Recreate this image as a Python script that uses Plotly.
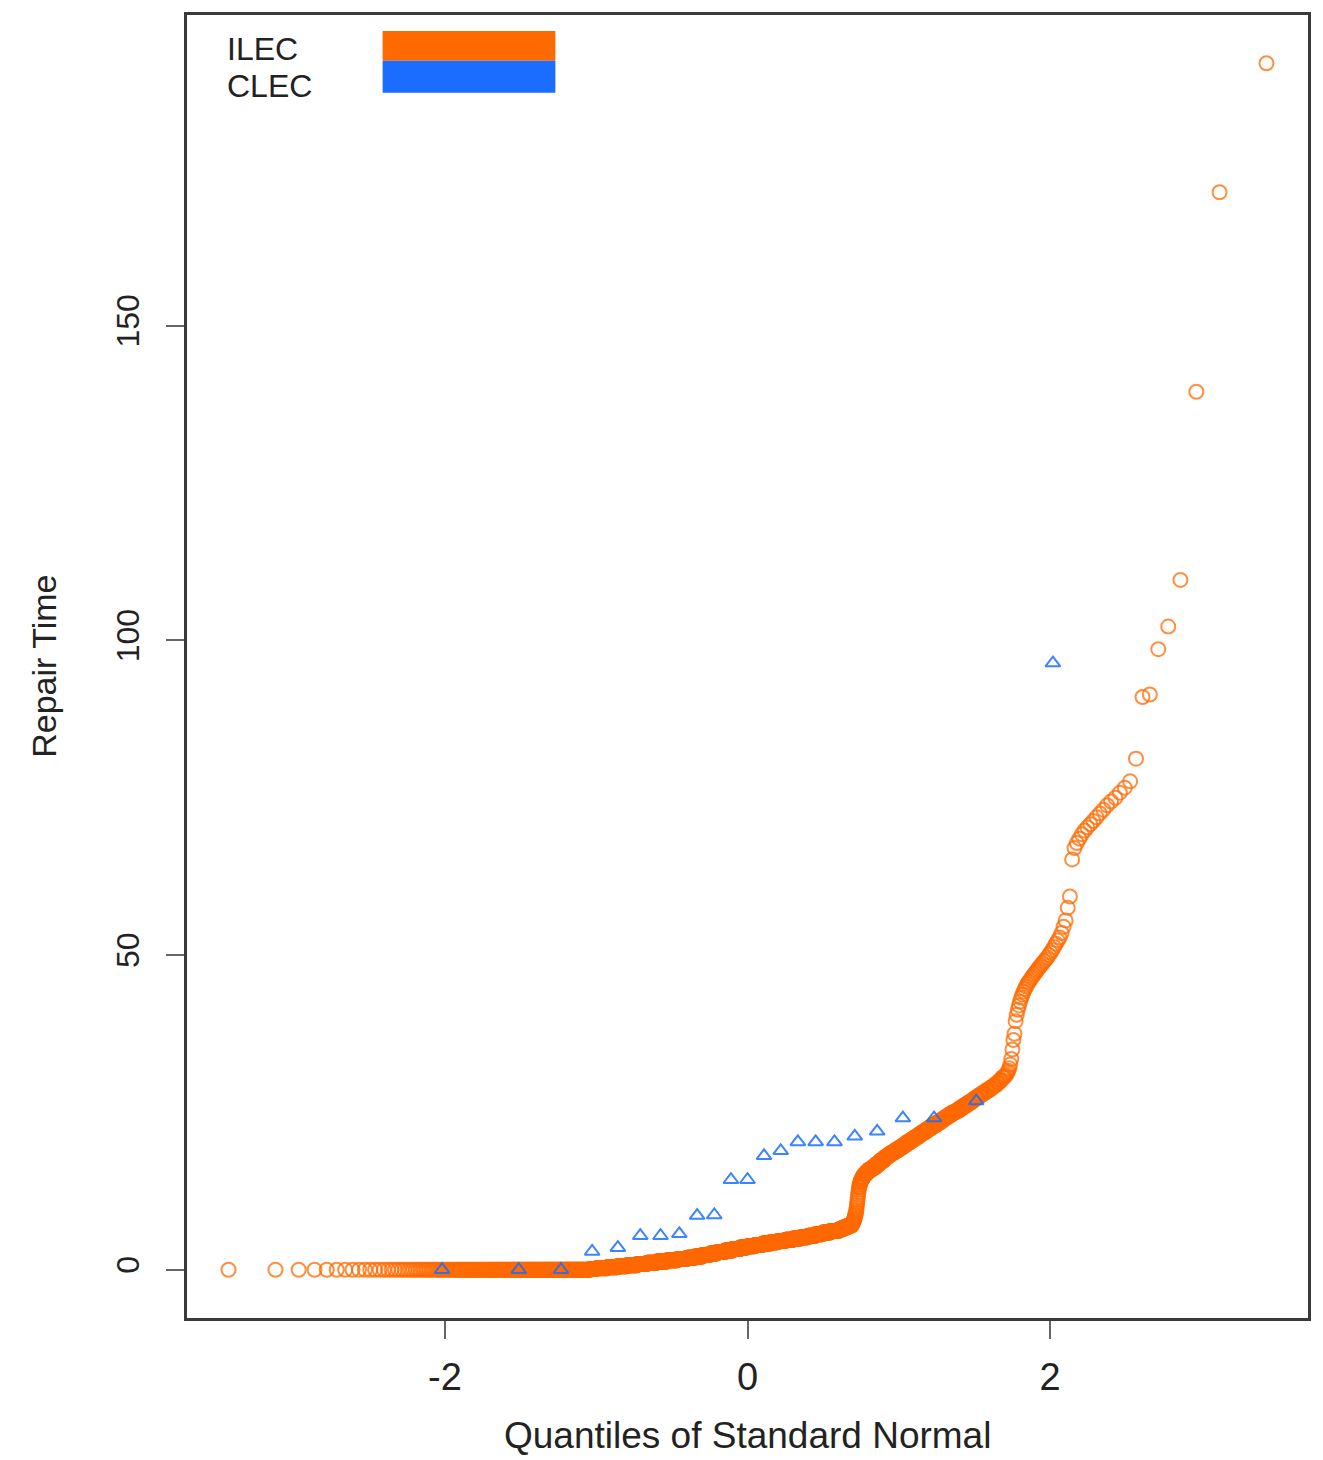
from statistics import NormalDist

import numpy as np
import plotly.graph_objects as go

# ILEC repair times (hours), bulk of the sample as a frequency table: time, number of tickets
ILEC_TIME = [
    0.0, 0.1, 0.25, 0.4, 0.55, 0.7, 0.9, 1.1, 1.3, 1.5, 1.7, 1.9, 2.1, 2.35, 2.6, 2.8, 3.05,
    3.3, 3.55, 3.75, 3.95, 4.15, 4.35, 4.55, 4.75, 4.95, 5.15, 5.4, 5.65, 5.9, 6.15, 6.4, 6.7, 7.0,
    7.3, 7.6, 7.9, 8.3, 8.7, 9.1, 9.5, 9.9, 10.3, 10.7, 11.1, 11.5, 11.9, 12.3, 12.7, 13.1, 13.5,
    13.9, 14.3, 14.7, 15.1, 15.5, 15.9, 16.3, 16.8, 17.3,
    17.8, 18.2, 18.6, 19.0, 19.4, 19.8, 20.2, 20.6, 21.0, 21.4, 21.8, 22.2, 22.6, 23.0, 23.4, 23.8,
    24.2, 24.6, 25.0, 25.3, 25.7, 26.1, 26.5, 26.9, 27.3, 27.7, 28.1, 28.5, 28.9, 29.3, 29.7, 30.1, 30.6,
]
ILEC_COUNT = [
    248, 16, 30, 30, 29, 34, 34, 35, 39, 39, 39, 32, 32, 32, 31, 33, 33,
    33, 33, 33, 33, 33, 33, 32, 32, 32, 31, 29, 29, 29, 30, 16, 16, 16,
    3, 3, 3, 2, 2, 2, 1, 1, 1, 1, 1, 1, 1, 1, 1, 2, 2,
    3, 4, 5, 7, 8, 12, 12, 11, 12,
    10, 10, 11, 11, 10, 9, 10, 9, 9, 8, 9, 8, 8, 8, 8, 7,
    7, 7, 7, 6, 6, 6, 6, 5, 5, 5, 5, 5, 4, 4, 3, 3, 3,
]
# ILEC upper tail, one ticket per value
ILEC_TAIL = [
    30.8, 31.0, 31.3, 31.6, 32.0, 32.6, 33.5,
    35.0, 36.5, 37.5,
    39.5, 40.5, 41.3, 42.0, 42.6, 43.2, 43.7, 44.2, 44.6, 45.0,
    45.4, 45.7, 46.0, 46.3, 46.6, 46.9, 47.2, 47.5, 47.8, 48.1, 48.4, 48.7, 49.0, 49.3, 49.6,
    50.0, 50.4, 50.8, 51.3, 51.8, 52.3, 52.8,
    53.5, 54.5, 55.5, 57.5, 59.3,
    65.2,
    67.0, 67.8, 68.5, 69.2, 69.8, 70.3, 70.8, 71.3, 71.9, 72.5, 73.1, 73.8, 74.4, 75.0, 75.8, 76.6,
    77.6,
    81.2, 91.0, 91.4, 98.6, 102.2, 109.6, 139.5, 171.2, 191.7,
]
# CLEC repair times (hours)
CLEC_TIME = [
    0.0, 0.0, 0.0, 2.9, 3.5, 5.4, 5.4, 5.7, 8.6, 8.7, 14.3, 14.3,
    18.1, 18.9, 20.3, 20.3, 20.3, 21.2, 22.0, 24.1, 24.1, 26.8, 96.4,
]

X_TICKS = [-2, 0, 2]
Y_TICKS = [0, 50, 100, 150]

ORANGE = "#ff6a00"
BLUE = "#1a6dff"
FONT = "Liberation Sans, Arial, Helvetica, sans-serif"


def normal_scores(n):
    """Theoretical normal quantiles for plotting positions (R's ppoints)."""
    a = 3 / 8 if n <= 10 else 0.5
    nd = NormalDist()
    return np.array([nd.inv_cdf((i - a) / (n + 1 - 2 * a)) for i in range(1, n + 1)])


ilec = np.sort(np.concatenate([np.repeat(ILEC_TIME, ILEC_COUNT), ILEC_TAIL]))
clec = np.sort(np.array(CLEC_TIME))
ilec_q = normal_scores(len(ilec))
clec_q = normal_scores(len(clec))


def padded(lo, hi, frac=0.04):
    span = hi - lo
    return [lo - frac * span, hi + frac * span]


all_q = np.concatenate([ilec_q, clec_q])
all_t = np.concatenate([ilec, clec])
x_range = padded(all_q.min(), all_q.max())
y_range = padded(all_t.min(), all_t.max())

fig = go.Figure()
fig.add_trace(go.Scatter(
    x=ilec_q, y=ilec, mode="markers", name="ILEC",
    marker=dict(symbol="circle-open", size=14, color=ORANGE, opacity=0.75,
                line=dict(width=2, color=ORANGE)),
    showlegend=False,
))
fig.add_trace(go.Scatter(
    x=clec_q, y=clec, mode="markers", name="CLEC",
    marker=dict(symbol="triangle-up-open", size=13, color=BLUE, opacity=0.85,
                line=dict(width=2, color=BLUE)),
    showlegend=False,
))

axis_common = dict(
    showgrid=False, zeroline=False,
    showline=True, mirror=True, linecolor="#3a3a3a", linewidth=2.5,
    ticks="outside", ticklen=18, tickwidth=1.5, tickcolor="#666",
)
fig.update_xaxes(range=x_range, tickvals=X_TICKS, ticktext=[str(v) for v in X_TICKS],
                 tickfont=dict(family=FONT, size=38, color="#222"),
                 ticklabelstandoff=6, **axis_common)
fig.update_yaxes(range=y_range, tickvals=Y_TICKS, ticktext=[str(v) for v in Y_TICKS],
                 tickfont=dict(family=FONT, size=32, color="#222"),
                 tickangle=-90, ticklabelstandoff=14, **axis_common)

# legend: labels with filled colour bars
legend_rows = [("ILEC", ORANGE, 0.9877, 0.9648, 0.9739), ("CLEC", BLUE, 0.9648, 0.9403, 0.9456)]
for label, colour, y_top, y_bot, y_txt in legend_rows:
    fig.add_shape(type="rect", xref="paper", yref="paper", x0=0.1745, x1=0.3286,
                  y0=y_bot, y1=y_top, fillcolor=colour, line_width=0, layer="above")
    fig.add_annotation(text=label, xref="paper", yref="paper", x=0.0338, y=y_txt,
                       xanchor="left", yanchor="middle", showarrow=False,
                       font=dict(family=FONT, size=32, color="#222"))

# axis titles
fig.add_annotation(text="Quantiles of Standard Normal", xref="paper", yref="paper",
                   x=0.5, y=-0.0905, xanchor="center", yanchor="middle", showarrow=False,
                   font=dict(family=FONT, size=37, color="#222"))
fig.add_annotation(text="Repair Time", xref="paper", yref="paper",
                   x=-0.1282, y=0.5, xanchor="center", yanchor="middle", textangle=-90,
                   showarrow=False, font=dict(family=FONT, size=34, color="#222"))

fig.update_layout(
    width=1323, height=1460,
    margin=dict(l=187, r=13, t=12, b=142),
    plot_bgcolor="white", paper_bgcolor="white",
    showlegend=False,
)

fig.write_html("out.html")
